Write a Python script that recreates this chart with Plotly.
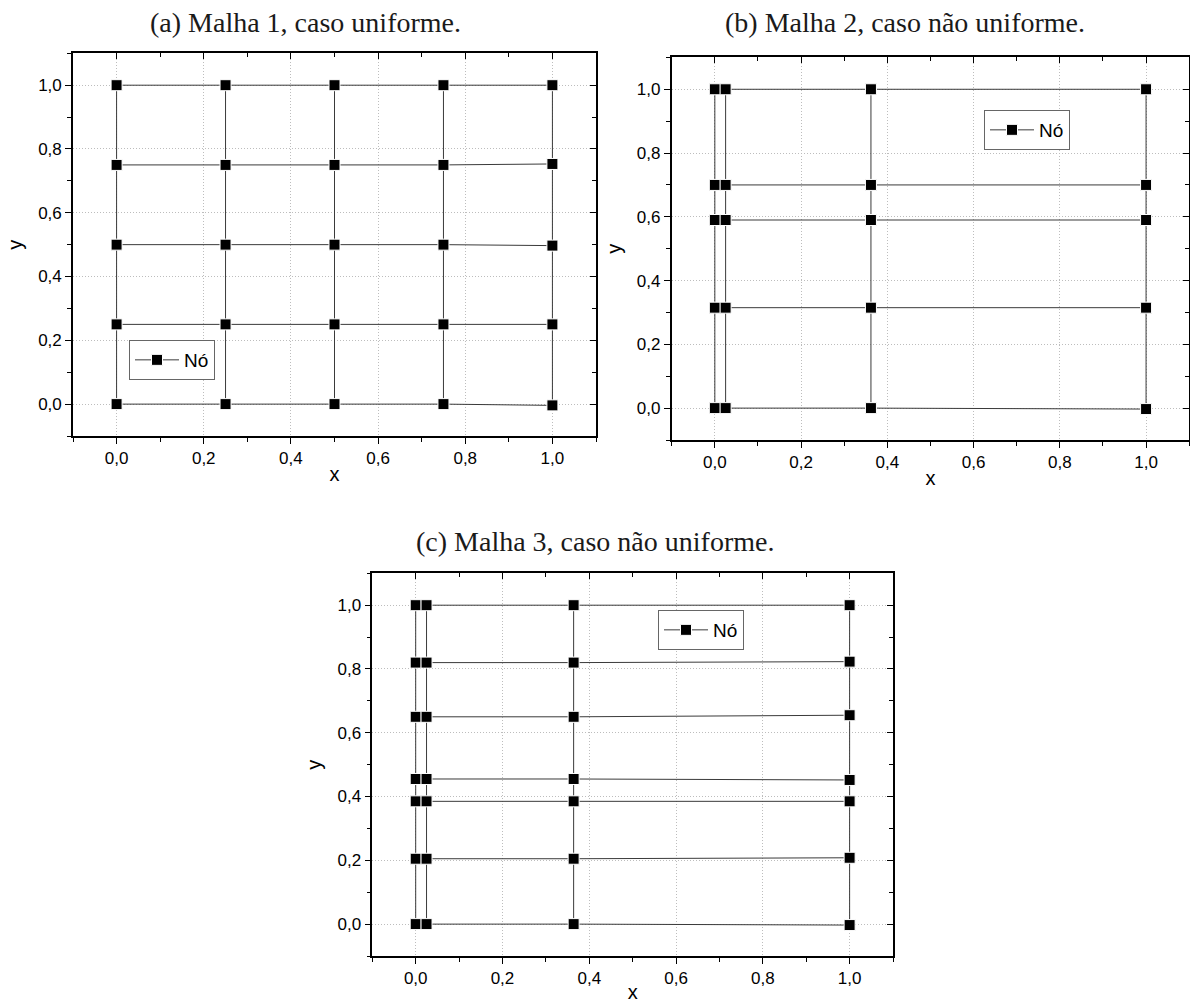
import plotly.graph_objects as go

# Mesh 1: uniform 5x5 grid
malha1_x = [0.0, 0.25, 0.5, 0.75, 1.0]
malha1_y = [0.0, 0.25, 0.5, 0.75, 1.0]
malha1_y_ultima_coluna = [-0.004, 0.25, 0.497, 0.753, 1.0]

# Mesh 2: non-uniform
malha2_x = [0.0, 0.025, 0.362, 1.0]
malha2_y = [0.0, 0.315, 0.59, 0.70, 1.0]
malha2_y_ultima_coluna = [-0.003, 0.315, 0.59, 0.70, 1.0]

# Mesh 3: non-uniform
malha3_x = [0.0, 0.025, 0.364, 1.0]
malha3_y = [0.0, 0.205, 0.385, 0.455, 0.65, 0.82, 1.0]
malha3_y_ultima_coluna = [-0.003, 0.208, 0.385, 0.452, 0.655, 0.823, 1.0]

titulos = ["(a) Malha 1, caso uniforme.",
           "(b) Malha 2, caso não uniforme.",
           "(c) Malha 3, caso não uniforme."]
ticks_vals = [0.0, 0.2, 0.4, 0.6, 0.8, 1.0]
eixo_range = [-0.1, 1.1]

W, H = 1190, 1003

# panel frames in pixels: (left, right, top, bottom)
frames = [(73, 596, 53.3, 436), (671.7, 1189.2, 57.4, 440), (372.3, 893, 573.3, 956)]
legend_pos = [(172, 360), (1027, 130), (701, 630)]
title_pos = [(305, 22), (905, 22), (595, 541)]

LINE_COLOR = "#3a3a3a"
SANS = "Liberation Sans, Arial, sans-serif"
SERIF = "Liberation Serif, Times New Roman, serif"

fig = go.Figure()

malhas = [
    (malha1_x, malha1_y, malha1_y_ultima_coluna),
    (malha2_x, malha2_y, malha2_y_ultima_coluna),
    (malha3_x, malha3_y, malha3_y_ultima_coluna),
]

for k, (xs, ys, ys_last) in enumerate(malhas):
    xa = "x" if k == 0 else f"x{k+1}"
    ya = "y" if k == 0 else f"y{k+1}"
    leg = "legend" if k == 0 else f"legend{k+1}"

    def y_at(i, j):
        # node (column i, row j)
        return ys_last[j] if i == len(xs) - 1 else ys[j]

    # vertical mesh lines
    for i, xv in enumerate(xs):
        fig.add_trace(go.Scatter(
            x=[xv] * len(ys), y=[y_at(i, j) for j in range(len(ys))],
            mode="lines", line=dict(color=LINE_COLOR, width=1),
            showlegend=False, hoverinfo="skip", xaxis=xa, yaxis=ya))
    # horizontal mesh lines with nodes
    for j in range(len(ys)):
        fig.add_trace(go.Scatter(
            x=xs, y=[y_at(i, j) for i in range(len(xs))],
            mode="lines+markers", name="Nó",
            line=dict(color=LINE_COLOR, width=1),
            marker=dict(symbol="square", size=11, color="black",
                        line=dict(color="white", width=1)),
            showlegend=(j == 0), legend=leg, xaxis=xa, yaxis=ya))

    # invisible anchors so the top and right frame axes get drawn
    sxo = str(k + 4)
    fig.add_trace(go.Scatter(x=[0.5], y=[0.5], mode="markers",
                             marker=dict(opacity=0), showlegend=False,
                             hoverinfo="skip", xaxis=f"x{sxo}", yaxis=ya))
    fig.add_trace(go.Scatter(x=[0.5], y=[0.5], mode="markers",
                             marker=dict(opacity=0), showlegend=False,
                             hoverinfo="skip", xaxis=xa, yaxis=f"y{sxo}"))

layout = dict(
    width=W, height=H, margin=dict(l=0, r=0, t=0, b=0),
    paper_bgcolor="white", plot_bgcolor="white",
    separators=",.", showlegend=True,
    font=dict(family=SANS, size=17, color="black"),
)

annotations = []
for k in range(3):
    l, r, t, b = frames[k]
    xd = [l / W, r / W]
    yd = [1 - b / H, 1 - t / H]
    sx = "" if k == 0 else str(k + 1)
    sxo = str(k + 4)
    common = dict(range=eixo_range, showline=True, linecolor="black", linewidth=1.6,
                  zeroline=False, tickcolor="black", tickwidth=1.3)
    minor_out = dict(ticks="outside", ticklen=4, dtick=0.1, tick0=0,
                     tickcolor="black", tickwidth=1.3, showgrid=False)
    minor_in = dict(minor_out, ticks="inside")
    grid = dict(showgrid=True, gridcolor="#bdbdbd", griddash="1px,2px", gridwidth=1)
    layout[f"xaxis{sx}"] = dict(
        domain=xd, anchor=f"y{sx}", tickmode="array", tickvals=ticks_vals,
        tickformat=".1f", ticks="outside", ticklen=6, minor=minor_out,
        tickfont=dict(family=SANS, size=17),
        title=dict(text="x", font=dict(family=SANS, size=20), standoff=0),
        automargin=False, **grid, **common)
    layout[f"yaxis{sx}"] = dict(
        domain=yd, anchor=f"x{sx}", tickmode="array", tickvals=ticks_vals,
        tickformat=".1f", ticks="outside", ticklen=6, minor=minor_out,
        tickfont=dict(family=SANS, size=17),
        title=dict(text="y", font=dict(family=SANS, size=20), standoff=10),
        automargin=False, **grid, **common)
    # top and right frame with inward ticks
    layout[f"xaxis{sxo}"] = dict(
        overlaying=f"x{sx}", side="top", anchor=f"y{sx}", tickmode="array",
        tickvals=ticks_vals, ticks="inside", ticklen=6, showticklabels=False,
        minor=minor_in, showgrid=False, automargin=False, **common)
    layout[f"yaxis{sxo}"] = dict(
        overlaying=f"y{sx}", side="right", anchor=f"x{sx}", tickmode="array",
        tickvals=ticks_vals, ticks="inside", ticklen=6, showticklabels=False,
        minor=minor_in, showgrid=False, automargin=False, **common)

    lx, ly = legend_pos[k]
    layout["legend" if k == 0 else f"legend{k+1}"] = dict(
        x=lx / W, y=1 - ly / H, xanchor="center", yanchor="middle",
        bgcolor="white", bordercolor="#666666", borderwidth=1,
        font=dict(family=SANS, size=19), itemwidth=44,
        tracegroupgap=0)

    tx, ty = title_pos[k]
    annotations.append(dict(
        text=titulos[k], x=tx / W, y=1 - ty / H, xref="paper", yref="paper",
        xanchor="center", yanchor="middle", showarrow=False,
        font=dict(family=SERIF, size=28, color="#1a1a1a")))

layout["annotations"] = annotations
fig.update_layout(**layout)

fig.write_html("out.html")
